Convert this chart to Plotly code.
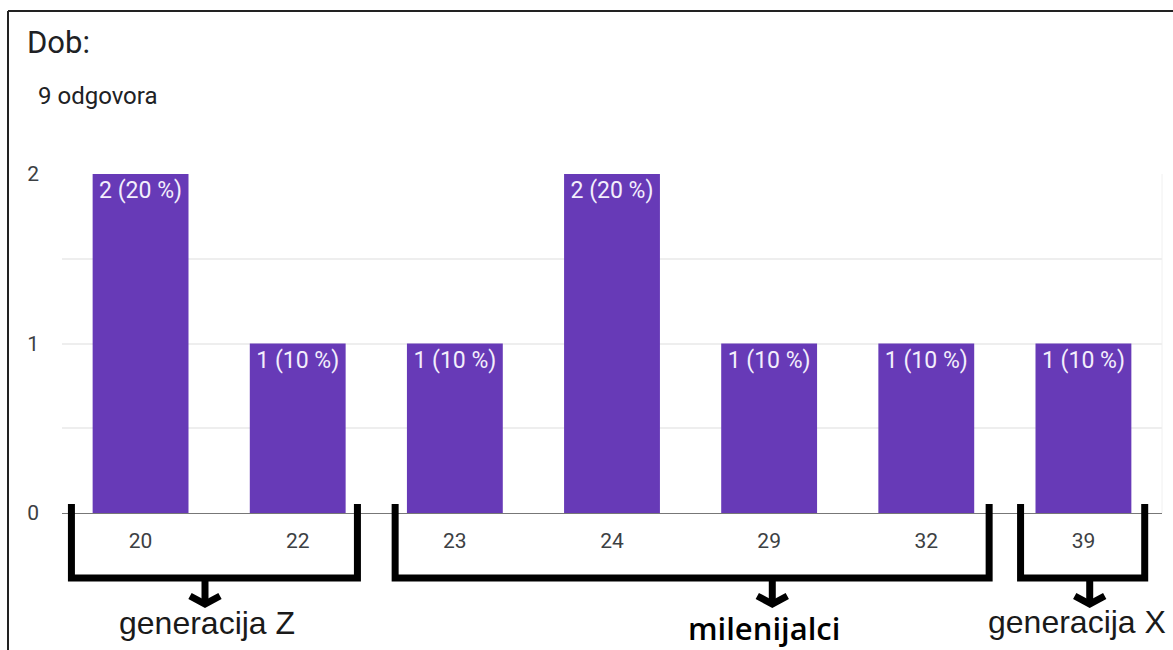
import plotly.graph_objects as go

# ---- data ----
ages = ["20", "22", "23", "24", "29", "32", "39"]
counts = [2, 1, 1, 2, 1, 1, 1]
bar_labels = ["2 (20 %)", "1 (10 %)", "1 (10 %)", "2 (20 %)", "1 (10 %)", "1 (10 %)", "1 (10 %)"]
y_tick_vals = [0, 0.5, 1, 1.5, 2]
y_tick_text = ["0", "", "1", "", "2"]
title_text = "Dob:"
subtitle_text = "9 odgovora"

# generation groups: (left edge, right edge, arrow position, label x) in category units
group_names = ["generacija Z", "milenijalci", "generacija X"]
group_left = [-0.44, 1.62, 5.60]
group_right = [1.38, 5.40, 6.39]
group_arrow = [0.41, 4.02, 6.04]
group_label_x = [0.42, 3.97, 5.96]

# ---- layout geometry (pixels) ----
W, H = 1173, 650
L, R, T, B = 62, 11, 174, 137
PW = W - L - R
PH = H - T - B
N = len(ages)


def cx(c):  # category units -> paper x
    return (c + 0.5) / N


def px(x):  # pixel x -> paper
    return (x - L) / PW


def py(y):  # pixel y -> paper
    return (H - B - y) / PH


fig = go.Figure(
    go.Bar(
        x=ages,
        y=counts,
        text=bar_labels,
        textposition="inside",
        insidetextanchor="end",
        textangle=0,
        constraintext="none",
        textfont=dict(family="Roboto, Arial, sans-serif", size=23, color="#f3eefc"),
        marker=dict(color="#673ab7", line=dict(width=0)),
        hoverinfo="skip",
    )
)

shapes = []
line_style = dict(color="black", width=7)
y_top = py(504)
y_bot = py(578)
for lft, rgt, arr in zip(group_left, group_right, group_arrow):
    xl, xr, xa = cx(lft), cx(rgt), cx(arr)
    shapes.append(dict(
        type="path", xref="paper", yref="paper",
        path=f"M {xl},{y_top} L {xl},{y_bot} L {xr},{y_bot} L {xr},{y_top}",
        line=line_style, layer="above",
    ))
    shapes.append(dict(
        type="path", xref="paper", yref="paper",
        path=f"M {xa},{y_bot} L {xa},{py(604)}",
        line=line_style, layer="above",
    ))
    shapes.append(dict(
        type="path", xref="paper", yref="paper",
        path=f"M {xa - 15 / PW},{py(596)} L {xa},{py(604)} L {xa + 15 / PW},{py(596)}",
        line=line_style, layer="above",
    ))

# outer frame (top & left)
shapes.append(dict(type="line", xref="paper", yref="paper",
                   x0=px(8), x1=px(W + 5), y0=py(11), y1=py(11),
                   line=dict(color="#222", width=2)))
shapes.append(dict(type="line", xref="paper", yref="paper",
                   x0=px(8), x1=px(8), y0=py(11), y1=py(H + 5),
                   line=dict(color="#222", width=2)))
shapes.append(dict(type="line", xref="paper", yref="paper",
                   x0=1, x1=1, y0=0, y1=1,
                   line=dict(color="#f0f0f0", width=1), layer="below"))

annotations = [
    dict(text=title_text, xref="paper", yref="paper", x=px(25), y=py(42),
         xanchor="left", yanchor="middle", showarrow=False,
         font=dict(family="Roboto, Arial, sans-serif", size=31, color="#202124")),
    dict(text=subtitle_text, xref="paper", yref="paper", x=px(36), y=py(96),
         xanchor="left", yanchor="middle", showarrow=False,
         font=dict(family="Roboto, Arial, sans-serif", size=24, color="#202124")),
]
label_fonts = [
    dict(family="Liberation Sans, Arial, sans-serif", size=32, color="#1a1a1a"),
    dict(family="Open Sans, sans-serif", size=31, color="#000", weight=600),
    dict(family="Liberation Sans, Arial, sans-serif", size=32, color="#1a1a1a"),
]
label_y = [623, 628, 622]
for name, lx, ly, f in zip(group_names, group_label_x, label_y, label_fonts):
    annotations.append(dict(text=name, xref="paper", yref="paper", x=cx(lx), y=py(ly),
                            xanchor="center", yanchor="middle", showarrow=False, font=f))

fig.update_layout(
    width=W, height=H,
    margin=dict(l=L, r=R, t=T, b=B, pad=0),
    paper_bgcolor="white", plot_bgcolor="white",
    bargap=0.39,
    showlegend=False,
    shapes=shapes,
    annotations=annotations,
    font=dict(family="Roboto, Arial, sans-serif"),
)
fig.update_xaxes(
    type="category",
    showgrid=False,
    showline=True, linecolor="#777", linewidth=1,
    ticks="", ticklabelstandoff=9,
    tickfont=dict(family="Roboto, Arial, sans-serif", size=21, color="#3c4043"),
    fixedrange=True,
)
fig.update_yaxes(
    range=[0, 2],
    tickvals=y_tick_vals, ticktext=y_tick_text,
    showgrid=True, gridcolor="#eeeeee", gridwidth=2,
    zeroline=False, showline=False,
    ticks="", ticklabelstandoff=22,
    tickfont=dict(family="Roboto, Arial, sans-serif", size=21, color="#3c4043"),
    fixedrange=True,
)

fig.write_html(
    "out.html",
    config={"displayModeBar": False},
    post_script="document.body.style.margin='0';document.body.style.overflow='hidden';",
)
